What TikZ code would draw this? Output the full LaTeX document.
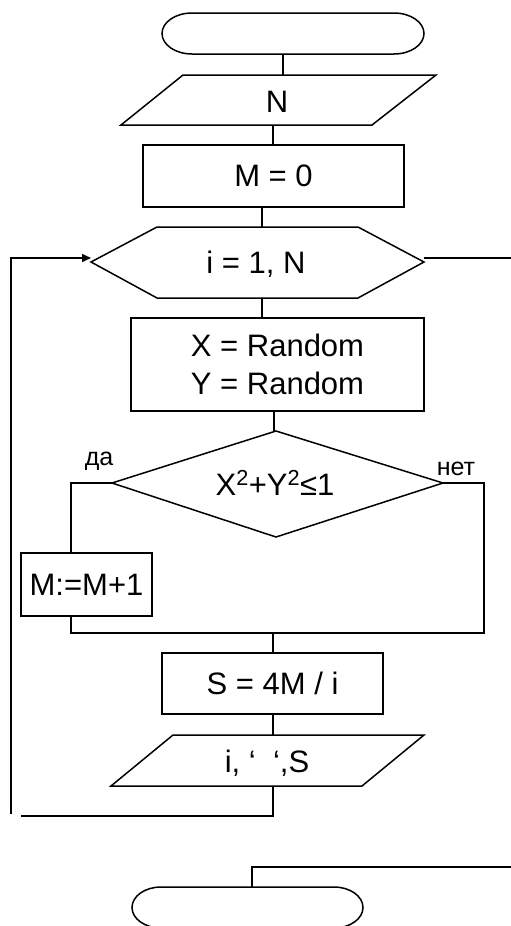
\documentclass[tikz,border=0pt]{standalone}
\usepackage{fontspec}
\setmainfont{Liberation Sans}
\usetikzlibrary{arrows.meta}
\begin{document}
\begin{tikzpicture}[x=1pt,y=-1pt,line width=1.5pt,
  box/.style={draw,rectangle,inner sep=0pt,text depth=0pt,align=center,font=\fontsize{31}{38}\selectfont},
  txt/.style={inner sep=0pt,anchor=base,font=\fontsize{31}{38}\selectfont},
  lbl/.style={inner sep=0pt,anchor=base,font=\fontsize{25}{30}\selectfont},
  arr/.style={-{Triangle[length=9pt,width=8pt]}}]
\useasboundingbox (0,0) rectangle (511,926);
\clip (0,0) rectangle (511,926);

% start terminal
\draw (192,13) -- (394,13) arc[start angle=90,end angle=-90,x radius=30pt,y radius=20.5pt]
  -- (192,54) arc[start angle=270,end angle=90,x radius=30pt,y radius=20.5pt] -- cycle;
\coordinate (startB) at (283,54);

% input N
\draw (183,75) -- (436,75) -- (372,125) -- (121,125) -- cycle;
\coordinate (inT) at (283,75);
\coordinate (inB) at (273,125);
\node[txt] (nN) at (277,112) {N};

% M = 0
\node[box,minimum width=261pt,minimum height=62pt] (m0) at (273.5,176) {M = 0};

% loop hexagon
\draw (91,262) -- (157,227) -- (358,227) -- (424,262) -- (358,298) -- (157,298) -- cycle;
\coordinate (hexT) at (262,227);
\coordinate (hexB) at (262,298);
\coordinate (hexW) at (91,258);
\coordinate (hexE) at (424,258);
\coordinate (edgeE) at (511,258);
\node[txt] (loop) at (256,273) {i = 1, N};

% random
\node[box,minimum width=293pt,minimum height=93pt] (xy) at (277.5,364.5) {X = Random\\Y = Random};

% decision
\draw (276,431) -- (443,483) -- (276,537) -- (112,483) -- cycle;
\coordinate (decT) at (274,431);
\coordinate (decW) at (112,483);
\coordinate (decE) at (443,483);
\node[txt] (cond) at (275,495) {X\textsuperscript{2}+Y\textsuperscript{2}≤1};
\node[lbl] (yes) at (99,465) {да};
\node[lbl] (no) at (456,475) {нет};

\coordinate (lw) at (71,483);
\coordinate (re) at (484,483);
\coordinate (jl) at (71,633);
\coordinate (jr) at (484,633);
\coordinate (jm) at (273,633);

% M:=M+1
\node[box,minimum width=131pt,minimum height=63pt] (inc) at (86.5,584.5) {M:=M+1};

% S
\node[box,minimum width=221pt,minimum height=61pt] (s) at (272.5,683.5) {S = 4M / i};

% output
\draw (173,735) -- (424,735) -- (362,786) -- (111,786) -- cycle;
\coordinate (outT) at (273,735);
\coordinate (outB) at (273,786);
\node[txt] (outtxt) at (267,772) {i, ‘\ \ ‘,S};
\coordinate (lb) at (273,816);
\coordinate (lbl2) at (21,816);
\coordinate (lup) at (11,814);
\coordinate (ltop) at (11,258);

% end terminal
\draw (161,887) -- (334,887) arc[start angle=90,end angle=-90,x radius=29pt,y radius=20.5pt]
  -- (161,928) arc[start angle=270,end angle=90,x radius=29pt,y radius=20.5pt] -- cycle;
\coordinate (endT) at (252,887);
\coordinate (endK) at (252,867);
\coordinate (edgeE2) at (511,867);

% connectors
\draw (startB) -- (inT);
\draw (inB) -- (inB |- m0.north);
\draw (m0.south -| hexT) -- (hexT);
\draw (hexB) -- (hexB |- xy.north);
\draw (xy.south -| decT) -- (decT);
\draw (decW) -- (lw) -- (lw |- inc.north);
\draw (lw |- inc.south) -- (jl) -- (jr) -- (re) -- (decE);
\draw (jm) -- (jm |- s.north);
\draw (s.south -| outT) -- (outT);
\draw (outB) -- (lb) -- (lbl2);
\draw[arr] (lup) -- (ltop) -- (hexW);
\draw (hexE) -- (edgeE);
\draw (edgeE2) -- (endK) -- (endT);
\end{tikzpicture}
\end{document}
